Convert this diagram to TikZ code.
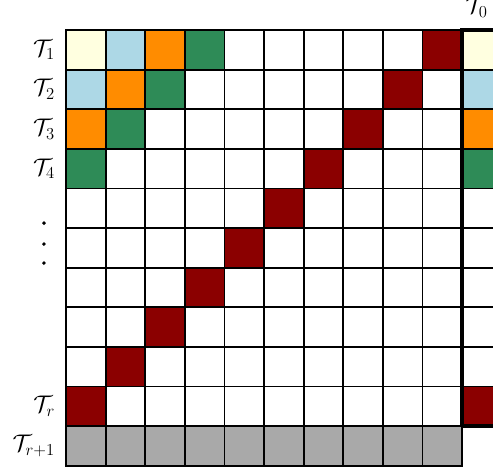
\documentclass[tikz,border=0pt]{standalone}
\usepackage{amsmath}
\definecolor{lyel}{HTML}{FFFFE0}
\definecolor{lblu}{HTML}{ADD8E6}
\definecolor{dorg}{HTML}{FF8C00}
\definecolor{sgrn}{HTML}{2E8B57}
\definecolor{dred}{HTML}{8B0000}
\definecolor{gcel}{HTML}{A9A9A9}
\tikzset{
  cell/.style={draw=black, line width=1.3pt, minimum size=1cm, inner sep=0pt, outer sep=0pt},
  lab/.style={font=\LARGE, inner sep=0pt, anchor=east},
  thickbox/.style={draw=black, line width=3.1pt},
  dotmark/.style={fill=black}
}
\begin{document}
\begin{tikzpicture}
\useasboundingbox (-1.667,0.758) rectangle (10.783,-11.086);
\clip (-1.667,0.758) rectangle (10.783,-11.086);
% main grid
\foreach \r in {1,...,10} {
  \foreach \c in {1,...,10} {
    \pgfmathtruncatemacro\s{\r+\c}
    \def\cc{white}
    \ifnum\s=11 \def\cc{dred}\fi
    \ifnum\s=2 \def\cc{lyel}\fi
    \ifnum\s=3 \def\cc{lblu}\fi
    \ifnum\s=4 \def\cc{dorg}\fi
    \ifnum\s=5 \def\cc{sgrn}\fi
    \node[cell, fill=\cc] (c-\r-\c) at (\c-0.5,-\r+0.5) {};
  }
}
% T0 column
\foreach \r in {1,...,10} {
  \def\cc{white}
  \ifnum\r=1 \def\cc{lyel}\fi
  \ifnum\r=2 \def\cc{lblu}\fi
  \ifnum\r=3 \def\cc{dorg}\fi
  \ifnum\r=4 \def\cc{sgrn}\fi
  \ifnum\r=10 \def\cc{dred}\fi
  \node[cell, fill=\cc] (t-\r) at (10.5,-\r+0.5) {};
}
\draw[thickbox] (t-1.north west) rectangle (t-10.south east);
% grey bottom row
\foreach \c in {1,...,10} {
  \node[cell, fill=gcel] (g-\c) at (\c-0.5,-10.5) {};
}
% labels
\node[lab] (l1) at (-0.27,-0.5) {$\mathcal{T}_1$};
\node[lab] (l2) at (-0.27,-1.5) {$\mathcal{T}_2$};
\node[lab] (l3) at (-0.27,-2.5) {$\mathcal{T}_3$};
\node[lab] (l4) at (-0.27,-3.5) {$\mathcal{T}_4$};
\node[lab] (lr) at (-0.27,-9.5) {$\mathcal{T}_r$};
\node[lab] (lr1) at (-0.27,-10.5) {$\mathcal{T}_{r+1}$};
\node[font=\LARGE, inner sep=0pt, anchor=base] (l0) at (10.37,0.41) {$\mathcal{T}_0$};
% vertical dots
\fill[dotmark] (-0.556,-4.874) circle (0.05);
\fill[dotmark] (-0.556,-5.404) circle (0.05);
\fill[dotmark] (-0.556,-5.884) circle (0.05);
\end{tikzpicture}
\end{document}
